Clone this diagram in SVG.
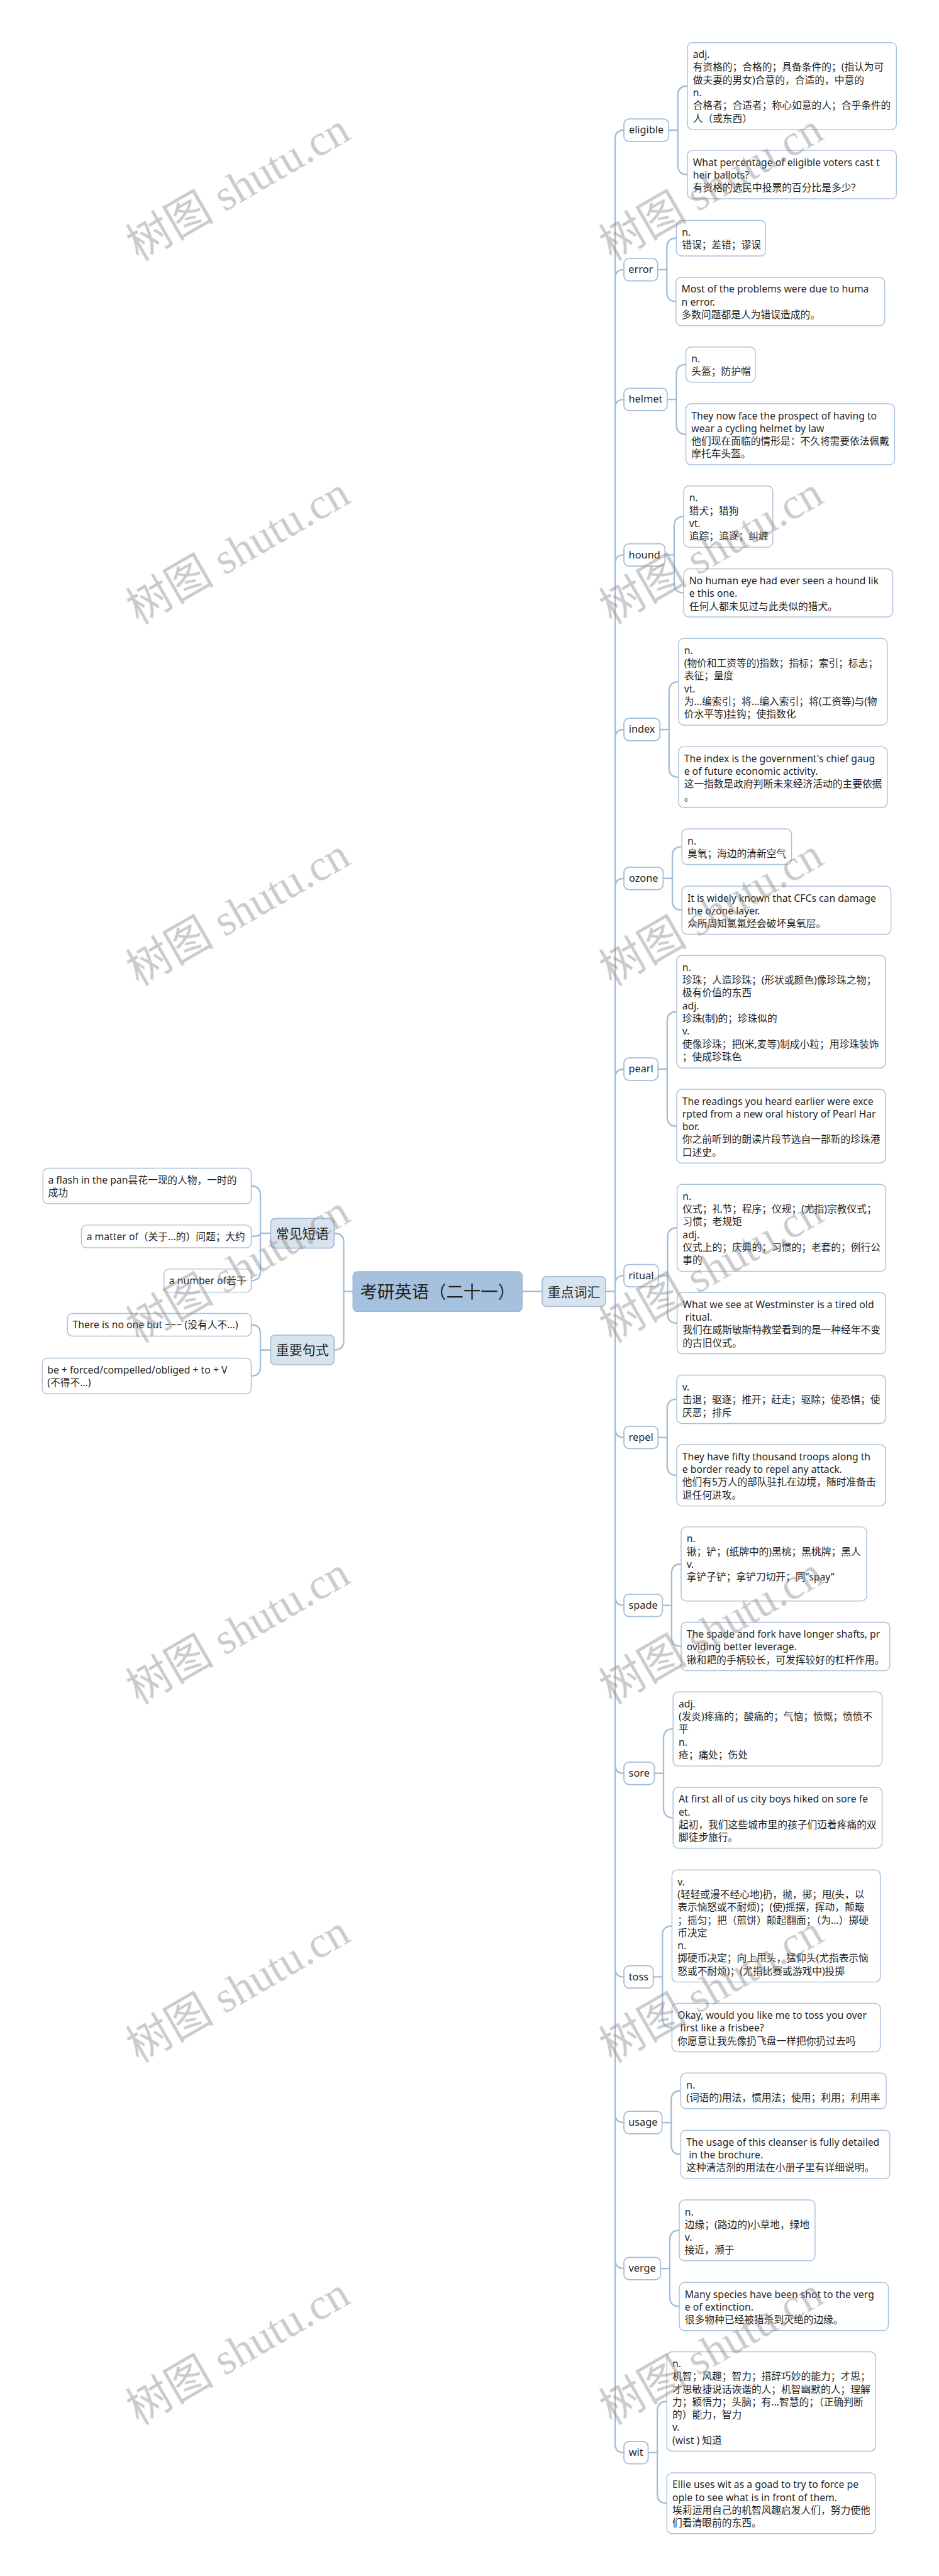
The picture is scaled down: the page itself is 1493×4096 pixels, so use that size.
<svg xmlns="http://www.w3.org/2000/svg" width="1493" height="4096" viewBox="0 0 1493 4096">
<defs>
<style>
.leaf rect{fill:#fff;stroke:#a9c1da;stroke-width:2.5}
.t{font-family:"Noto Sans","Noto Sans CJK SC",sans-serif;font-size:27px;fill:#1f1f1f;white-space:pre}
.word rect{fill:#fff;stroke:#a3bcd6;stroke-width:3}
.wt{font-family:"Noto Sans","Noto Sans CJK SC",sans-serif;font-size:28px;fill:#1f1f1f;text-anchor:middle}
.l1 rect{fill:#d7e3ef;stroke:#a7bfd7;stroke-width:3}
.l1t{font-family:"Noto Sans CJK SC","Noto Sans",sans-serif;font-size:36px;fill:#222;text-anchor:middle}
.conn path{fill:none;stroke:#a2bdd8;stroke-width:4}
.wm text{font-family:"Liberation Serif","Noto Sans CJK SC",serif;font-size:120px;fill:#8c8c8c;text-anchor:middle}
</style>
</defs>
<rect width="1493" height="4096" fill="#fff"/>
<g transform="scale(0.5832)">
<g id="connectors" class="conn">
<path d="M1424 3521H1478M1651 3521H1677"/>
<path d="M1677 3521V379Q1677 355 1701 355M1677 3521V759Q1677 735.5 1701 735.5M1677 3521V1113Q1677 1089 1701 1089M1677 3521V1537Q1677 1513 1701 1513M1677 3521V2013Q1677 1989 1701 1989M1677 3521V2419Q1677 2395 1701 2395M1677 3521V2939Q1677 2915 1701 2915M1677 3521V3502Q1677 3478 1701 3478"/>
<path d="M1677 3521V3895Q1677 3919 1701 3919M1677 3521V4353Q1677 4377 1701 4377M1677 3521V4811Q1677 4835 1701 4835M1677 3521V5366Q1677 5390 1701 5390M1677 3521V5763Q1677 5787 1701 5787M1677 3521V6161Q1677 6185 1701 6185M1677 3521V6663Q1677 6687 1701 6687"/>
<path d="M1823 355H1848M1848 355V260.5Q1848 234.5 1874 234.5M1848 355V450Q1848 476 1874 476"/>
<path d="M1793 735.5H1818M1818 735.5V675.5Q1818 649.5 1844 649.5M1818 735.5V796Q1818 822 1843 822"/>
<path d="M1819 1089H1844M1844 1089V1020Q1844 994 1870 994M1844 1089V1158Q1844 1184 1870 1184"/>
<path d="M1813 1513H1838M1838 1513V1434.5Q1838 1408.5 1864 1408.5M1838 1513V1590.5Q1838 1616.5 1864 1616.5"/>
<path d="M1799 1989H1824M1824 1989V1885Q1824 1859 1850 1859M1824 1989V2093Q1824 2119 1850 2119"/>
<path d="M1808 2395H1833M1833 2395V2334.5Q1833 2308.5 1859 2308.5M1833 2395V2455.5Q1833 2481.5 1859 2481.5"/>
<path d="M1794 2915H1819M1819 2915V2784.5Q1819 2758.5 1845 2758.5M1819 2915V3044.5Q1819 3070.5 1845 3070.5"/>
<path d="M1795 3478H1820M1820 3478V3373.5Q1820 3347.5 1846 3347.5M1820 3478V3581.5Q1820 3607.5 1846 3607.5"/>
<path d="M1794 3919H1819M1819 3919V3841Q1819 3815 1845 3815M1819 3919V3996.5Q1819 4022.5 1845 4022.5"/>
<path d="M1806 4377H1831M1831 4377V4290Q1831 4264 1857 4264M1831 4377V4463Q1831 4489 1857 4489"/>
<path d="M1784 4835H1809M1809 4835V4740Q1809 4714 1835 4714M1809 4835V4930Q1809 4956 1835 4956"/>
<path d="M1781 5390H1806M1806 5390V5277Q1806 5251 1832 5251M1806 5390V5502Q1806 5528 1832 5528"/>
<path d="M1805 5787H1830M1830 5787V5726.5Q1830 5700.5 1856 5700.5M1830 5787V5848Q1830 5874 1856 5874"/>
<path d="M1801 6185H1826M1826 6185V6107Q1826 6081 1852 6081M1826 6185V6262.5Q1826 6288.5 1852 6288.5"/>
<path d="M1767 6687H1792M1792 6687V6573.5Q1792 6547.5 1818 6547.5M1792 6687V6799Q1792 6825 1818 6825"/>
<path d="M962 3521H937M937 3521V3386Q937 3362.5 911 3362.5M937 3521V3656Q937 3680.5 911 3680.5"/>
<path d="M738 3362.5H710M710 3362.5V3259.5Q710 3233.5 685 3233.5M710 3362.5Q710 3371 685 3371M710 3362.5V3466.5Q710 3491.5 685 3491.5"/>
<path d="M738 3680.5H710M710 3680.5V3637Q710 3612 685 3612M710 3680.5V3726.5Q710 3751.5 685 3751.5"/>
</g>

<g id="root"><rect x="962" y="3467" width="462" height="109" rx="12" fill="#a6c1dd" stroke="#9cb6d1" stroke-width="2"/><text x="1193" y="3539" font-family="'Noto Sans CJK SC',sans-serif" font-size="47" fill="#222" text-anchor="middle">考研英语（二十一）</text></g>
<g id="n-vocab" class="l1"><rect x="1478" y="3480" width="173" height="82" rx="12"/><text class="l1t" x="1564.5" y="3535">重点词汇</text></g>
<g id="n-phrases" class="l1"><rect x="738" y="3322" width="173" height="81" rx="12"/><text class="l1t" x="824.5" y="3376">常见短语</text></g>
<g id="n-sentences" class="l1"><rect x="738" y="3640" width="173" height="81" rx="12"/><text class="l1t" x="824.5" y="3694">重要句式</text></g>

<g id="p-flash" class="leaf"><rect x="117" y="3185" width="568" height="97" rx="14"/><text class="t" x="131" y="3227"><tspan x="131">a flash in the pan昙花一现的人物，一时的</tspan><tspan x="131" dy="34.8">成功</tspan></text></g>
<g id="p-matter" class="leaf"><rect x="222" y="3340" width="463" height="62" rx="14"/><text class="t" x="236" y="3381">a matter of（关于...的）问题；大约</text></g>
<g id="p-number" class="leaf"><rect x="447" y="3460" width="238" height="63" rx="14"/><text class="t" x="461" y="3501">a number of若干</text></g>
<g id="s-noone" class="leaf"><rect x="184" y="3581" width="501" height="62" rx="14"/><text class="t" x="198" y="3622">There is no one but ~~~ (没有人不...)</text></g>
<g id="s-forced" class="leaf"><rect x="115" y="3703" width="570" height="97" rx="14"/><text class="t" x="129" y="3745"><tspan x="129">be + forced/compelled/obliged + to + V</tspan><tspan x="129" dy="34.8">(不得不...)</tspan></text></g>

<g id="w-eligible" class="word"><rect x="1701" y="324.5" width="122" height="61" rx="14"/><text class="wt" x="1762" y="364">eligible</text></g>
<g id="w-error" class="word"><rect x="1701" y="705" width="92" height="61" rx="14"/><text class="wt" x="1747" y="744.5">error</text></g>
<g id="w-helmet" class="word"><rect x="1701" y="1058.5" width="118" height="61" rx="14"/><text class="wt" x="1760" y="1098">helmet</text></g>
<g id="w-hound" class="word"><rect x="1701" y="1482.5" width="112" height="61" rx="14"/><text class="wt" x="1757" y="1522">hound</text></g>
<g id="w-index" class="word"><rect x="1701" y="1958.5" width="98" height="61" rx="14"/><text class="wt" x="1750" y="1998">index</text></g>
<g id="w-ozone" class="word"><rect x="1701" y="2364.5" width="107" height="61" rx="14"/><text class="wt" x="1754.5" y="2404">ozone</text></g>
<g id="w-pearl" class="word"><rect x="1701" y="2884.5" width="93" height="61" rx="14"/><text class="wt" x="1747.5" y="2924">pearl</text></g>
<g id="w-ritual" class="word"><rect x="1701" y="3447.5" width="94" height="61" rx="14"/><text class="wt" x="1748" y="3487">ritual</text></g>
<g id="w-repel" class="word"><rect x="1701" y="3888.5" width="93" height="61" rx="14"/><text class="wt" x="1747.5" y="3928">repel</text></g>
<g id="w-spade" class="word"><rect x="1701" y="4346.5" width="105" height="61" rx="14"/><text class="wt" x="1753.5" y="4386">spade</text></g>
<g id="w-sore" class="word"><rect x="1701" y="4804.5" width="83" height="61" rx="14"/><text class="wt" x="1742.5" y="4844">sore</text></g>
<g id="w-toss" class="word"><rect x="1701" y="5359.5" width="80" height="61" rx="14"/><text class="wt" x="1741" y="5399">toss</text></g>
<g id="w-usage" class="word"><rect x="1701" y="5756.5" width="104" height="61" rx="14"/><text class="wt" x="1753" y="5796">usage</text></g>
<g id="w-verge" class="word"><rect x="1701" y="6154.5" width="100" height="61" rx="14"/><text class="wt" x="1751" y="6194">verge</text></g>
<g id="w-wit" class="word"><rect x="1701" y="6656.5" width="66" height="61" rx="14"/><text class="wt" x="1734" y="6696">wit</text></g>

<g id="eligible-def" class="leaf"><rect x="1874" y="116" width="570" height="237" rx="14"/><text class="t" x="1889" y="158"><tspan x="1889">adj.</tspan><tspan x="1889" dy="34.8">有资格的；合格的；具备条件的；(指认为可</tspan><tspan x="1889" dy="34.8">做夫妻的男女)合意的，合适的，中意的</tspan><tspan x="1889" dy="34.8">n.</tspan><tspan x="1889" dy="34.8">合格者；合适者；称心如意的人；合乎条件的</tspan><tspan x="1889" dy="34.8">人（或东西）</tspan></text></g>
<g id="eligible-ex" class="leaf"><rect x="1874" y="410" width="570" height="132" rx="14"/><text class="t" x="1889" y="452"><tspan x="1889">What percentage of eligible voters cast t</tspan><tspan x="1889" dy="34.8">heir ballots?</tspan><tspan x="1889" dy="34.8">有资格的选民中投票的百分比是多少?</tspan></text></g>
<g id="error-def" class="leaf"><rect x="1844" y="601" width="243" height="97" rx="14"/><text class="t" x="1859" y="643"><tspan x="1859">n.</tspan><tspan x="1859" dy="34.8">错误；差错；谬误</tspan></text></g>
<g id="error-ex" class="leaf"><rect x="1843" y="756" width="569" height="132" rx="14"/><text class="t" x="1858" y="798"><tspan x="1858">Most of the problems were due to huma</tspan><tspan x="1858" dy="34.8">n error.</tspan><tspan x="1858" dy="34.8">多数问题都是人为错误造成的。</tspan></text></g>
<g id="helmet-def" class="leaf"><rect x="1870" y="946" width="189" height="96" rx="14"/><text class="t" x="1885" y="988"><tspan x="1885">n.</tspan><tspan x="1885" dy="34.8">头盔；防护帽</tspan></text></g>
<g id="helmet-ex" class="leaf"><rect x="1870" y="1101" width="569" height="166" rx="14"/><text class="t" x="1885" y="1143"><tspan x="1885">They now face the prospect of having to</tspan><tspan x="1885" dy="34.8">wear a cycling helmet by law</tspan><tspan x="1885" dy="34.8">他们现在面临的情形是：不久将需要依法佩戴</tspan><tspan x="1885" dy="34.8">摩托车头盔。</tspan></text></g>
<g id="hound-def" class="leaf"><rect x="1864" y="1325" width="243" height="167" rx="14"/><text class="t" x="1879" y="1367"><tspan x="1879">n.</tspan><tspan x="1879" dy="34.8">猎犬；猎狗</tspan><tspan x="1879" dy="34.8">vt.</tspan><tspan x="1879" dy="34.8">追踪；追逐；纠缠</tspan></text></g>
<g id="hound-ex" class="leaf"><rect x="1864" y="1551" width="570" height="131" rx="14"/><text class="t" x="1879" y="1593"><tspan x="1879">No human eye had ever seen a hound lik</tspan><tspan x="1879" dy="34.8">e this one.</tspan><tspan x="1879" dy="34.8">任何人都未见过与此类似的猎犬。</tspan></text></g>
<g id="index-def" class="leaf"><rect x="1850" y="1741" width="569" height="236" rx="14"/><text class="t" x="1865" y="1783"><tspan x="1865">n.</tspan><tspan x="1865" dy="34.8">(物价和工资等的)指数；指标；索引；标志；</tspan><tspan x="1865" dy="34.8">表征；量度</tspan><tspan x="1865" dy="34.8">vt.</tspan><tspan x="1865" dy="34.8">为...编索引；将...编入索引；将(工资等)与(物</tspan><tspan x="1865" dy="34.8">价水平等)挂钩；使指数化</tspan></text></g>
<g id="index-ex" class="leaf"><rect x="1850" y="2036" width="569" height="166" rx="14"/><text class="t" x="1865" y="2078"><tspan x="1865">The index is the government's chief gaug</tspan><tspan x="1865" dy="34.8">e of future economic activity.</tspan><tspan x="1865" dy="34.8">这一指数是政府判断未来经济活动的主要依据</tspan><tspan x="1865" dy="34.8">。</tspan></text></g>
<g id="ozone-def" class="leaf"><rect x="1859" y="2260" width="299" height="97" rx="14"/><text class="t" x="1874" y="2302"><tspan x="1874">n.</tspan><tspan x="1874" dy="34.8">臭氧；海边的清新空气</tspan></text></g>
<g id="ozone-ex" class="leaf"><rect x="1859" y="2416" width="570" height="131" rx="14"/><text class="t" x="1874" y="2458"><tspan x="1874">It is widely known that CFCs can damage</tspan><tspan x="1874" dy="34.8">the ozone layer.</tspan><tspan x="1874" dy="34.8">众所周知氯氟烃会破坏臭氧层。</tspan></text></g>
<g id="pearl-def" class="leaf"><rect x="1845" y="2605" width="569" height="307" rx="14"/><text class="t" x="1860" y="2647"><tspan x="1860">n.</tspan><tspan x="1860" dy="34.8">珍珠；人造珍珠；(形状或颜色)像珍珠之物；</tspan><tspan x="1860" dy="34.8">极有价值的东西</tspan><tspan x="1860" dy="34.8">adj.</tspan><tspan x="1860" dy="34.8">珍珠(制)的；珍珠似的</tspan><tspan x="1860" dy="34.8">v.</tspan><tspan x="1860" dy="34.8">使像珍珠；把(米,麦等)制成小粒；用珍珠装饰</tspan><tspan x="1860" dy="34.8">；使成珍珠色</tspan></text></g>
<g id="pearl-ex" class="leaf"><rect x="1845" y="2970" width="569" height="201" rx="14"/><text class="t" x="1860" y="3012"><tspan x="1860">The readings you heard earlier were exce</tspan><tspan x="1860" dy="34.8">rpted from a new oral history of Pearl Har</tspan><tspan x="1860" dy="34.8">bor.</tspan><tspan x="1860" dy="34.8">你之前听到的朗读片段节选自一部新的珍珠港</tspan><tspan x="1860" dy="34.8">口述史。</tspan></text></g>
<g id="ritual-def" class="leaf"><rect x="1846" y="3229" width="569" height="237" rx="14"/><text class="t" x="1861" y="3271"><tspan x="1861">n.</tspan><tspan x="1861" dy="34.8">仪式；礼节；程序；仪规；(尤指)宗教仪式；</tspan><tspan x="1861" dy="34.8">习惯；老规矩</tspan><tspan x="1861" dy="34.8">adj.</tspan><tspan x="1861" dy="34.8">仪式上的；庆典的；习惯的；老套的；例行公</tspan><tspan x="1861" dy="34.8">事的</tspan></text></g>
<g id="ritual-ex" class="leaf"><rect x="1846" y="3524" width="569" height="167" rx="14"/><text class="t" x="1861" y="3566"><tspan x="1861">What we see at Westminster is a tired old</tspan><tspan x="1861" dy="34.8"> ritual.</tspan><tspan x="1861" dy="34.8">我们在威斯敏斯特教堂看到的是一种经年不变</tspan><tspan x="1861" dy="34.8">的古旧仪式。</tspan></text></g>
<g id="repel-def" class="leaf"><rect x="1845" y="3749" width="569" height="132" rx="14"/><text class="t" x="1860" y="3791"><tspan x="1860">v.</tspan><tspan x="1860" dy="34.8">击退；驱逐；推开；赶走；驱除；使恐惧；使</tspan><tspan x="1860" dy="34.8">厌恶；排斥</tspan></text></g>
<g id="repel-ex" class="leaf"><rect x="1845" y="3939" width="569" height="167" rx="14"/><text class="t" x="1860" y="3981"><tspan x="1860">They have fifty thousand troops along th</tspan><tspan x="1860" dy="34.8">e border ready to repel any attack.</tspan><tspan x="1860" dy="34.8">他们有5万人的部队驻扎在边境，随时准备击</tspan><tspan x="1860" dy="34.8">退任何进攻。</tspan></text></g>
<g id="spade-def" class="leaf"><rect x="1857" y="4163" width="506" height="202" rx="14"/><text class="t" x="1872" y="4205"><tspan x="1872">n.</tspan><tspan x="1872" dy="34.8">锹；铲；(纸牌中的)黑桃；黑桃牌；黑人</tspan><tspan x="1872" dy="34.8">v.</tspan><tspan x="1872" dy="34.8">拿铲子铲；拿铲刀切开；同“spay”</tspan></text></g>
<g id="spade-ex" class="leaf"><rect x="1857" y="4423" width="569" height="132" rx="14"/><text class="t" x="1872" y="4465"><tspan x="1872">The spade and fork have longer shafts, pr</tspan><tspan x="1872" dy="34.8">oviding better leverage.</tspan><tspan x="1872" dy="34.8">锹和耙的手柄较长，可发挥较好的杠杆作用。</tspan></text></g>
<g id="sore-def" class="leaf"><rect x="1835" y="4613" width="570" height="202" rx="14"/><text class="t" x="1850" y="4655"><tspan x="1850">adj.</tspan><tspan x="1850" dy="34.8">(发炎)疼痛的；酸痛的；气恼；愤慨；愤愤不</tspan><tspan x="1850" dy="34.8">平</tspan><tspan x="1850" dy="34.8">n.</tspan><tspan x="1850" dy="34.8">疮；痛处；伤处</tspan></text></g>
<g id="sore-ex" class="leaf"><rect x="1835" y="4873" width="570" height="166" rx="14"/><text class="t" x="1850" y="4915"><tspan x="1850">At first all of us city boys hiked on sore fe</tspan><tspan x="1850" dy="34.8">et.</tspan><tspan x="1850" dy="34.8">起初，我们这些城市里的孩子们迈着疼痛的双</tspan><tspan x="1850" dy="34.8">脚徒步旅行。</tspan></text></g>
<g id="toss-def" class="leaf"><rect x="1832" y="5098" width="568" height="306" rx="14"/><text class="t" x="1847" y="5140"><tspan x="1847">v.</tspan><tspan x="1847" dy="34.8">(轻轻或漫不经心地)扔，抛，掷；甩(头，以</tspan><tspan x="1847" dy="34.8">表示恼怒或不耐烦)；(使)摇摆，挥动，颠簸</tspan><tspan x="1847" dy="34.8">；摇匀；把（煎饼）颠起翻面；（为...）掷硬</tspan><tspan x="1847" dy="34.8">币决定</tspan><tspan x="1847" dy="34.8">n.</tspan><tspan x="1847" dy="34.8">掷硬币决定；向上甩头，猛仰头(尤指表示恼</tspan><tspan x="1847" dy="34.8">怒或不耐烦)；(尤指比赛或游戏中)投掷</tspan></text></g>
<g id="toss-ex" class="leaf"><rect x="1832" y="5462" width="568" height="132" rx="14"/><text class="t" x="1847" y="5504"><tspan x="1847">Okay, would you like me to toss you over</tspan><tspan x="1847" dy="34.8"> first like a frisbee?</tspan><tspan x="1847" dy="34.8">你愿意让我先像扔飞盘一样把你扔过去吗</tspan></text></g>
<g id="usage-def" class="leaf"><rect x="1856" y="5652" width="560" height="97" rx="14"/><text class="t" x="1871" y="5694"><tspan x="1871">n.</tspan><tspan x="1871" dy="34.8">(词语的)用法，惯用法；使用；利用；利用率</tspan></text></g>
<g id="usage-ex" class="leaf"><rect x="1856" y="5808" width="570" height="132" rx="14"/><text class="t" x="1871" y="5850"><tspan x="1871">The usage of this cleanser is fully detailed</tspan><tspan x="1871" dy="34.8"> in the brochure.</tspan><tspan x="1871" dy="34.8">这种清洁剂的用法在小册子里有详细说明。</tspan></text></g>
<g id="verge-def" class="leaf"><rect x="1852" y="5998" width="370" height="166" rx="14"/><text class="t" x="1867" y="6040"><tspan x="1867">n.</tspan><tspan x="1867" dy="34.8">边缘；(路边的)小草地，绿地</tspan><tspan x="1867" dy="34.8">v.</tspan><tspan x="1867" dy="34.8">接近，濒于</tspan></text></g>
<g id="verge-ex" class="leaf"><rect x="1852" y="6223" width="570" height="131" rx="14"/><text class="t" x="1867" y="6265"><tspan x="1867">Many species have been shot to the verg</tspan><tspan x="1867" dy="34.8">e of extinction.</tspan><tspan x="1867" dy="34.8">很多物种已经被猎杀到灭绝的边缘。</tspan></text></g>
<g id="wit-def" class="leaf"><rect x="1818" y="6412" width="569" height="271" rx="14"/><text class="t" x="1833" y="6454"><tspan x="1833">n.</tspan><tspan x="1833" dy="34.8">机智；风趣；智力；措辞巧妙的能力；才思；</tspan><tspan x="1833" dy="34.8">才思敏捷说话诙谐的人；机智幽默的人；理解</tspan><tspan x="1833" dy="34.8">力；颖悟力；头脑；有...智慧的；（正确判断</tspan><tspan x="1833" dy="34.8">的）能力，智力</tspan><tspan x="1833" dy="34.8">v.</tspan><tspan x="1833" dy="34.8">(wist ) 知道</tspan></text></g>
<g id="wit-ex" class="leaf"><rect x="1818" y="6742" width="569" height="166" rx="14"/><text class="t" x="1833" y="6784"><tspan x="1833">Ellie uses wit as a goad to try to force pe</tspan><tspan x="1833" dy="34.8">ople to see what is in front of them.</tspan><tspan x="1833" dy="34.8">埃莉运用自己的机智风趣启发人们，努力使他</tspan><tspan x="1833" dy="34.8">们看清眼前的东西。</tspan></text></g>

<g id="watermark" class="wm" opacity="0.45">
<text transform="translate(650 511) rotate(-30)" y="40">树图 shutu.cn</text>
<text transform="translate(1940 511) rotate(-30)" y="40">树图 shutu.cn</text>
<text transform="translate(650 1502) rotate(-30)" y="40">树图 shutu.cn</text>
<text transform="translate(1940 1502) rotate(-30)" y="40">树图 shutu.cn</text>
<text transform="translate(650 2488) rotate(-30)" y="40">树图 shutu.cn</text>
<text transform="translate(1940 2488) rotate(-30)" y="40">树图 shutu.cn</text>
<text transform="translate(650 3461) rotate(-30)" y="40">树图 shutu.cn</text>
<text transform="translate(1940 3461) rotate(-30)" y="40">树图 shutu.cn</text>
<text transform="translate(650 4447) rotate(-30)" y="40">树图 shutu.cn</text>
<text transform="translate(1940 4447) rotate(-30)" y="40">树图 shutu.cn</text>
<text transform="translate(650 5424) rotate(-30)" y="40">树图 shutu.cn</text>
<text transform="translate(1940 5424) rotate(-30)" y="40">树图 shutu.cn</text>
<text transform="translate(650 6411) rotate(-30)" y="40">树图 shutu.cn</text>
<text transform="translate(1940 6411) rotate(-30)" y="40">树图 shutu.cn</text>
</g>
</g>
</svg>
